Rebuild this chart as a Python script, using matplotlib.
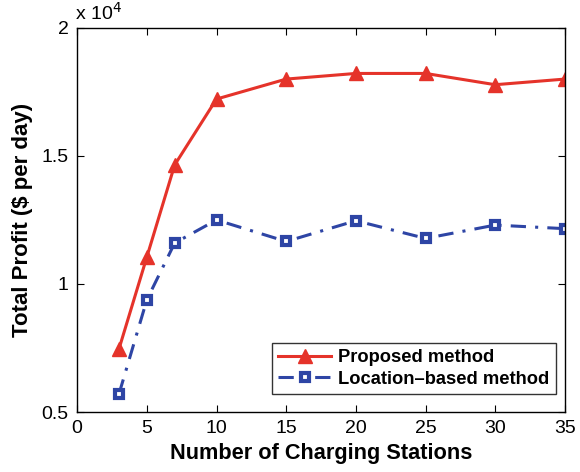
import numpy as np
import matplotlib
matplotlib.use("Agg")
import matplotlib.pyplot as plt

plt.rcParams['font.family'] = ['Liberation Sans', 'DejaVu Sans']

# data (profit in units of 10^4 $ per day)
stations = [3, 5, 7, 10, 15, 20, 25, 30, 35]
proposed = [0.746, 1.105, 1.465, 1.722, 1.800, 1.822, 1.822, 1.778, 1.800]
location_based = [0.570, 0.938, 1.160, 1.250, 1.166, 1.247, 1.178, 1.230, 1.216]

x_ticks = [0, 5, 10, 15, 20, 25, 30, 35]
y_ticks = [0.5, 1.0, 1.5, 2.0]
y_tick_labels = ["0.5", "1", "1.5", "2"]

red = "#E5332A"
blue = "#2E45A5"

fig = plt.figure(figsize=(5.8, 4.72), dpi=100)
ax = fig.add_axes([0.133, 0.127, 0.841, 0.814])

ax.plot(stations, proposed, "-", color=red, linewidth=2.2, marker="^",
        markersize=10, markerfacecolor=red, markeredgecolor=red,
        label="Proposed method")
ax.plot(stations, location_based, color=blue, linewidth=2.2, linestyle=(0, (5, 3, 1, 3)),
        marker="s", markersize=6, markerfacecolor="white", markeredgecolor=blue,
        markeredgewidth=3, label="Location\u2013based method")

ax.set_xlim(0, 35)
ax.set_ylim(0.5, 2.0)
ax.set_xticks(x_ticks)
ax.set_yticks(y_ticks)
ax.set_yticklabels(y_tick_labels)
ax.tick_params(direction="in", top=True, right=True, labelsize=14, length=5, width=0.8, pad=6)
for sp in ax.spines.values():
    sp.set_linewidth(1.0)

ax.set_xlabel("Number of Charging Stations", fontsize=15.7, fontweight="bold", labelpad=4)
ax.set_ylabel("Total Profit ($ per day)", fontsize=16, fontweight="bold", labelpad=6)
ax.text(-0.005, 1.01, r"x 10$^4$", transform=ax.transAxes, fontsize=14,
        ha="left", va="bottom")

leg = ax.legend(loc="lower right", prop={"weight": "bold", "size": 13.2},
                frameon=True, fancybox=False, handlelength=2.9, handletextpad=0.4,
                borderpad=0.35, labelspacing=0.25, borderaxespad=0,
                bbox_to_anchor=(0.982, 0.047))
leg.get_frame().set_edgecolor("black")
leg.get_frame().set_linewidth(1.0)

fig.savefig("out.png", dpi=100)
